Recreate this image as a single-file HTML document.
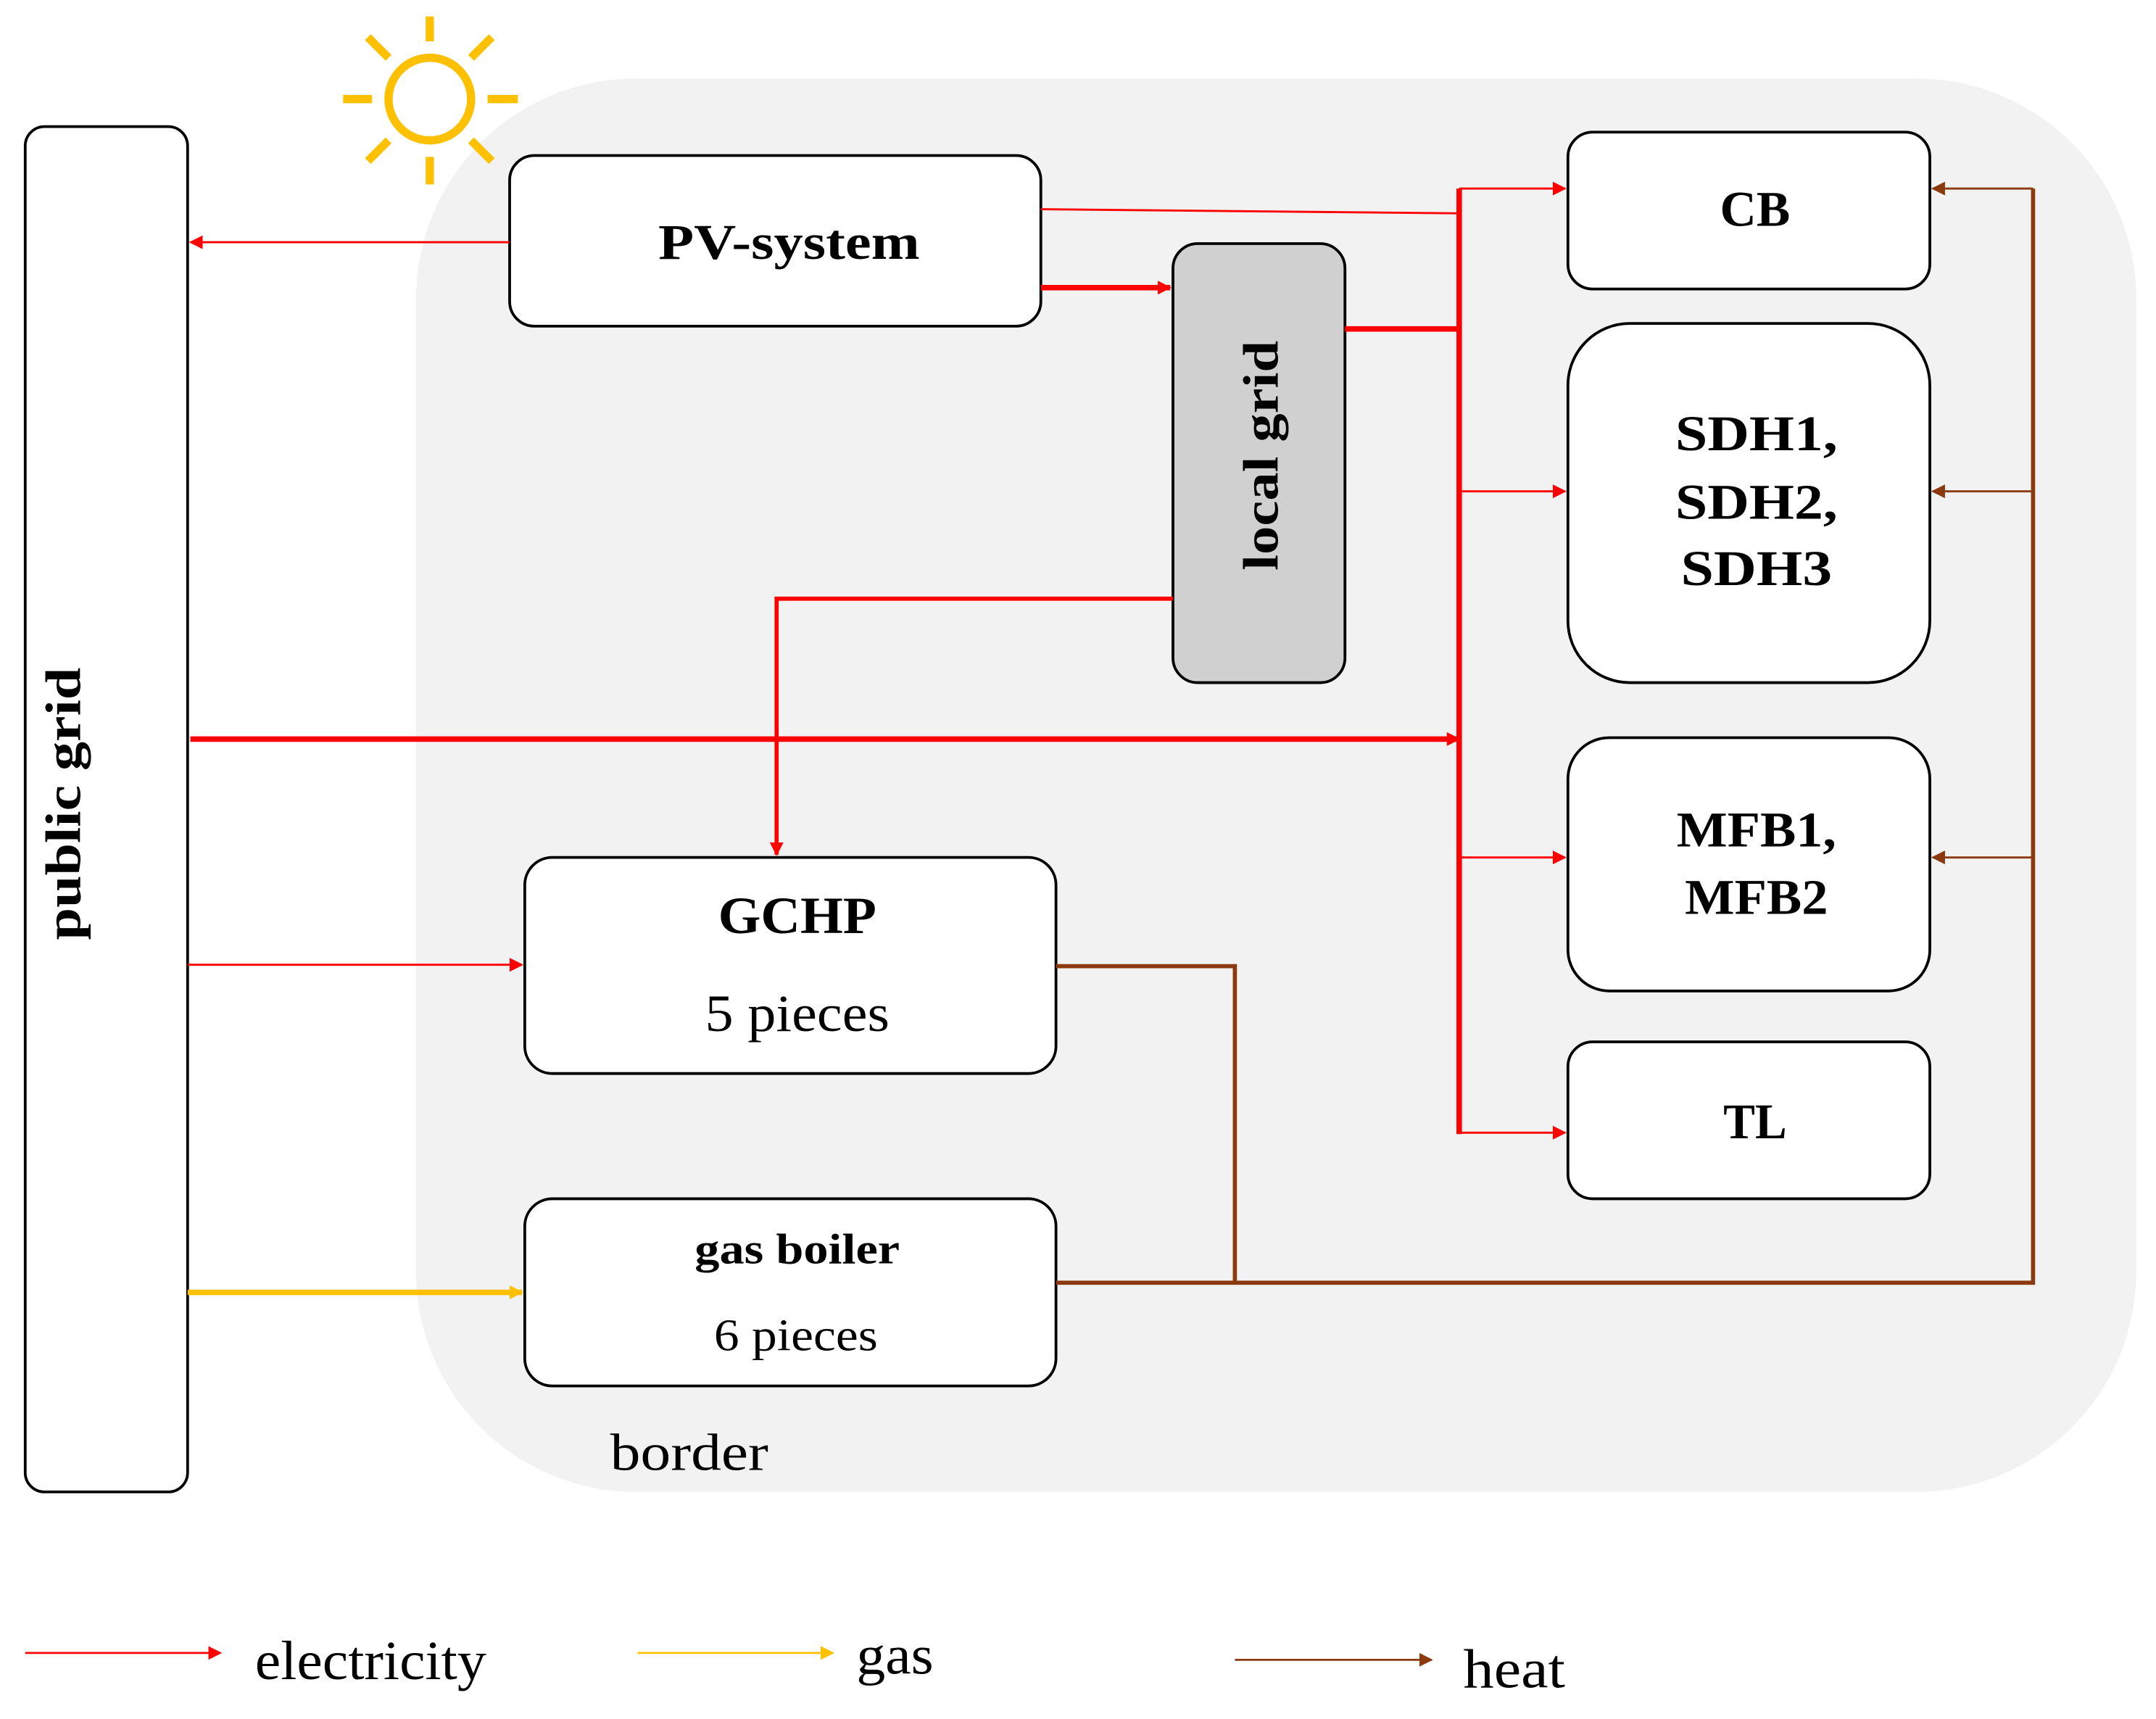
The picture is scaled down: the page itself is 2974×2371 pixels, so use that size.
<!DOCTYPE html>
<html><head><meta charset="utf-8"><style>
html,body{margin:0;padding:0;background:#fff;}
svg{display:block;}
text{font-family:"Liberation Serif",serif;fill:#000;}
.b{font-weight:bold;}
</style></head><body>
<svg width="2974" height="2371" viewBox="0 0 1566 1249" xmlns="http://www.w3.org/2000/svg">
<defs>
<marker id="ar" markerWidth="10" markerHeight="10" refX="9" refY="5" orient="auto" markerUnits="userSpaceOnUse"><path d="M0,0 L10,5 L0,10 z" fill="#ff0000"/></marker>
<marker id="ay" markerWidth="10" markerHeight="10" refX="9" refY="5" orient="auto" markerUnits="userSpaceOnUse"><path d="M0,0 L10,5 L0,10 z" fill="#ffc000"/></marker>
<marker id="ah" markerWidth="10" markerHeight="10" refX="9" refY="5" orient="auto" markerUnits="userSpaceOnUse"><path d="M0,0 L10,5 L0,10 z" fill="#8b3a0f"/></marker>
</defs>
<rect x="302" y="57" width="1250" height="1027" rx="160" fill="#f2f2f2"/>
<g stroke="#ffc000" stroke-width="6" fill="none">
<circle cx="312" cy="72" r="30"/>
<line x1="312" y1="30" x2="312" y2="12"/><line x1="312" y1="114" x2="312" y2="134"/>
<line x1="270" y1="72" x2="249" y2="72"/><line x1="354" y1="72" x2="376" y2="72"/>
<line x1="282" y1="42" x2="267" y2="27"/><line x1="342" y1="42" x2="357" y2="27"/>
<line x1="282" y1="102" x2="267" y2="117"/><line x1="342" y1="102" x2="357" y2="117"/>
</g>
<g stroke="#000" stroke-width="2" fill="#fff">
<rect x="18" y="92" width="118" height="992" rx="14"/>
<rect x="370" y="113" width="386" height="124" rx="18"/>
<rect x="852" y="177" width="125" height="319" rx="18" fill="#d0d0d0"/>
<rect x="1139" y="96" width="263" height="114" rx="18"/>
<rect x="1139" y="235" width="263" height="261" rx="45"/>
<rect x="1139" y="536" width="263" height="184" rx="30"/>
<rect x="1139" y="757" width="263" height="114" rx="18"/>
<rect x="381" y="623" width="386" height="157" rx="20"/>
<rect x="381" y="871" width="386" height="136" rx="20"/>
</g>
<g stroke="#ff0000" fill="none">
<line x1="370" y1="176" x2="138" y2="176" stroke-width="1.5" marker-end="url(#ar)"/>
<polyline points="756,152 1060,155" stroke-width="1.5"/>
<line x1="756" y1="209" x2="850" y2="209" stroke-width="4" marker-end="url(#ar)"/>
<line x1="977" y1="239" x2="1060" y2="239" stroke-width="4"/>
<line x1="1060" y1="137" x2="1060" y2="824" stroke-width="4"/>
<line x1="1060" y1="137" x2="1137" y2="137" stroke-width="1.5" marker-end="url(#ar)"/>
<line x1="1060" y1="357" x2="1137" y2="357" stroke-width="1.5" marker-end="url(#ar)"/>
<line x1="1060" y1="623" x2="1137" y2="623" stroke-width="1.5" marker-end="url(#ar)"/>
<line x1="1060" y1="823" x2="1137" y2="823" stroke-width="1.5" marker-end="url(#ar)"/>
<polyline points="852,435 564,435 564,621" stroke-width="3" marker-end="url(#ar)"/>
<line x1="138" y1="537" x2="1060" y2="537" stroke-width="4" marker-end="url(#ar)"/>
<line x1="136" y1="701" x2="379" y2="701" stroke-width="1.5" marker-end="url(#ar)"/>
<line x1="18" y1="1201" x2="160" y2="1201" stroke-width="1.5" marker-end="url(#ar)"/>
</g>
<g stroke="#ffc000" fill="none">
<line x1="136" y1="939" x2="379" y2="939" stroke-width="4" marker-end="url(#ay)"/>
<line x1="463" y1="1201" x2="605" y2="1201" stroke-width="1.5" marker-end="url(#ay)"/>
</g>
<g stroke="#8b3a0f" fill="none" stroke-width="3">
<polyline points="767,702 897,702 897,932"/>
<polyline points="767,932 1477,932 1477,137"/>
<line x1="1477" y1="137" x2="1404" y2="137" stroke-width="1.5" marker-end="url(#ah)"/>
<line x1="1477" y1="357" x2="1404" y2="357" stroke-width="1.5" marker-end="url(#ah)"/>
<line x1="1477" y1="623" x2="1404" y2="623" stroke-width="1.5" marker-end="url(#ah)"/>
<line x1="897" y1="1206" x2="1040" y2="1206" stroke-width="1.5" marker-end="url(#ah)"/>
</g>
<g text-anchor="middle" lengthAdjust="spacingAndGlyphs">
<text class="b" font-size="36" transform="translate(58,584) rotate(-90)" textLength="198" lengthAdjust="spacingAndGlyphs">public grid</text>
<text class="b" font-size="36" transform="translate(928,331) rotate(-90)" textLength="167" lengthAdjust="spacingAndGlyphs">local grid</text>
<text class="b" font-size="36" x="573" y="188" textLength="190" lengthAdjust="spacingAndGlyphs">PV-system</text>
<text class="b" font-size="36" x="1275" y="164" textLength="51" lengthAdjust="spacingAndGlyphs">CB</text>
<text class="b" font-size="36" x="1276" y="327" textLength="118" lengthAdjust="spacingAndGlyphs">SDH1,</text>
<text class="b" font-size="36" x="1276" y="377" textLength="118" lengthAdjust="spacingAndGlyphs">SDH2,</text>
<text class="b" font-size="36" x="1276" y="425" textLength="110" lengthAdjust="spacingAndGlyphs">SDH3</text>
<text class="b" font-size="36" x="1276" y="615" textLength="116" lengthAdjust="spacingAndGlyphs">MFB1,</text>
<text class="b" font-size="36" x="1276" y="664" textLength="104" lengthAdjust="spacingAndGlyphs">MFB2</text>
<text class="b" font-size="36" x="1275" y="827" textLength="46" lengthAdjust="spacingAndGlyphs">TL</text>
<text class="b" font-size="38" x="579" y="678" textLength="115" lengthAdjust="spacingAndGlyphs">GCHP</text>
<text font-size="38" x="579" y="749" textLength="134" lengthAdjust="spacingAndGlyphs">5 pieces</text>
<text class="b" font-size="31" x="579" y="918" textLength="149" lengthAdjust="spacingAndGlyphs">gas boiler</text>
<text font-size="33" x="578" y="981" textLength="119" lengthAdjust="spacingAndGlyphs">6 pieces</text>
</g>
<text font-size="38" x="443" y="1068" textLength="115" lengthAdjust="spacingAndGlyphs">border</text>
<text font-size="40" x="185" y="1220" textLength="168" lengthAdjust="spacingAndGlyphs">electricity</text>
<text font-size="40" x="622" y="1216" textLength="56" lengthAdjust="spacingAndGlyphs">gas</text>
<text font-size="40" x="1063" y="1226" textLength="74" lengthAdjust="spacingAndGlyphs">heat</text>
</svg>
</body></html>
